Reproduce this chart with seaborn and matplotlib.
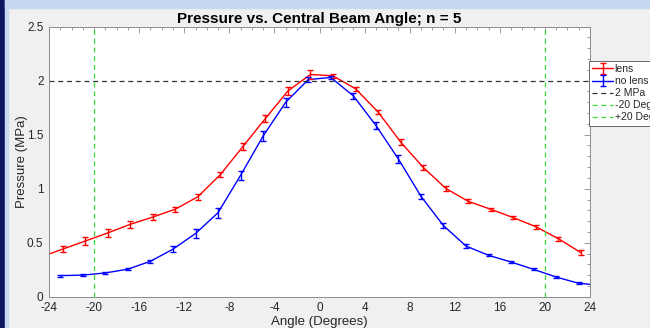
import numpy as np
import pandas as pd
import seaborn as sns
import matplotlib.pyplot as plt
from matplotlib.patches import Rectangle

OUT_FILE = "out.png"

# lens series (slightly offset in angle so error bars do not overlap)
angle_lens = [-24.8, -22.8, -20.8, -18.8, -16.8, -14.8, -12.8, -10.8, -8.8, -6.8, -4.8, -2.8, -0.8,
              1.2, 3.2, 5.2, 7.2, 9.2, 11.2, 13.2, 15.2, 17.2, 19.2, 21.2, 23.2]
p_lens = [0.365, 0.44, 0.515, 0.59, 0.67, 0.737, 0.81, 0.925, 1.13, 1.39, 1.65, 1.905, 2.058,
          2.045, 1.925, 1.71, 1.432, 1.198, 1.003, 0.883, 0.809, 0.732, 0.648, 0.537, 0.407]
err_lens = [0.03, 0.03, 0.035, 0.035, 0.03, 0.03, 0.025, 0.025, 0.025, 0.035, 0.035, 0.04, 0.04,
            0.02, 0.02, 0.02, 0.025, 0.025, 0.025, 0.02, 0.015, 0.015, 0.02, 0.02, 0.025]

# no lens series
angle_nolens = [-23, -21, -19, -17, -15, -13, -11, -9, -7, -5, -3, -1,
                1, 3, 5, 7, 9, 11, 13, 15, 17, 19, 21, 23, 25]
p_nolens = [0.195, 0.20, 0.22, 0.255, 0.328, 0.44, 0.585, 0.778, 1.124, 1.488, 1.80, 2.01,
            2.03, 1.86, 1.587, 1.275, 0.93, 0.658, 0.469, 0.383, 0.321, 0.253, 0.182, 0.124, 0.105]
err_nolens = [0.01, 0.01, 0.01, 0.01, 0.015, 0.025, 0.04, 0.045, 0.04, 0.045, 0.04, 0.02,
              0.015, 0.025, 0.035, 0.04, 0.025, 0.025, 0.015, 0.01, 0.01, 0.01, 0.01, 0.01, 0.01]

ref_pressure = 2.0
ref_angles = [-20, 20]

x_ticks = list(range(-24, 25, 4))
y_ticks = [0, 0.5, 1, 1.5, 2, 2.5]
y_tick_labels = ["0", "0.5", "1", "1.5", "2", "2.5"]

RED = "#ff0000"
BLUE = "#0000ff"
GREEN = "#33e033"
GREY = "#8c8c8c"
TEXT = "#262626"

sns.set_theme(style="white")
plt.rcParams["font.family"] = ["Liberation Sans", "DejaVu Sans"]
plt.rcParams["axes.unicode_minus"] = False

df = pd.concat([
    pd.DataFrame({"angle": angle_lens, "pressure": p_lens, "err": err_lens, "series": "lens"}),
    pd.DataFrame({"angle": angle_nolens, "pressure": p_nolens, "err": err_nolens, "series": "no lens"}),
])

fig = plt.figure(figsize=(6.5, 3.28), dpi=100, facecolor="#f0f0f0")
# window chrome around the figure
fig.patches.append(Rectangle((0, 0), 5 / 650, 1, transform=fig.transFigure, color="#0b1660", zorder=-5))
fig.patches.append(Rectangle((5 / 650, 0), 2.5 / 650, 1, transform=fig.transFigure, color="#c6d9f3", zorder=-5))
fig.patches.append(Rectangle((5 / 650, 1 - 8 / 328), 1, 8 / 328, transform=fig.transFigure, color="#c6d9f3", zorder=-5))

ax = fig.add_axes([49 / 650, 1 - 296.7 / 328, 541 / 650, 270 / 328])
ax.set_facecolor("white")

sns.lineplot(data=df, x="angle", y="pressure", hue="series", palette={"lens": RED, "no lens": BLUE},
             sort=False, estimator=None, linewidth=1.0, legend=False, ax=ax)
lines = ax.get_lines()

handles = []
for i, (name, color) in enumerate([("lens", RED), ("no lens", BLUE)]):
    sub = df[df["series"] == name]
    eb = ax.errorbar(sub["angle"], sub["pressure"], yerr=sub["err"], fmt="none",
                     ecolor=color, elinewidth=1.0, capsize=2.2, capthick=1.0)
    handles.append((lines[i], eb))

h2 = ax.axhline(ref_pressure, color="#333333", lw=0.9, ls=(0, (4, 3)))
hv = []
for a in ref_angles:
    hv.append(ax.axvline(a, color=GREEN, lw=0.9, ls=(0, (4, 3))))

ax.set_xlim(-24, 24)
ax.set_ylim(0, 2.5)
ax.set_xticks(x_ticks)
ax.set_yticks(y_ticks)
ax.set_yticklabels(y_tick_labels)
ax.set_xticks(np.arange(-24, 25, 1), minor=True)
ax.set_yticks(np.arange(0, 2.51, 0.1), minor=True)
ax.tick_params(which="both", direction="in", top=True, right=True, colors=GREY,
               labelcolor=TEXT, labelsize=8.5, width=0.6)
ax.tick_params(which="major", length=4)
ax.tick_params(axis="x", which="major", pad=4)
ax.tick_params(axis="y", which="major", pad=4)
ax.tick_params(which="minor", length=2)
for s in ax.spines.values():
    s.set_color(GREY)
    s.set_linewidth(0.7)

ax.set_xlabel("Angle (Degrees)", fontsize=9.5, color=TEXT, labelpad=1)
ax.set_ylabel("Pressure (MPa)", fontsize=9.5, color=TEXT, labelpad=-1)
ax.set_title("Pressure vs. Central Beam Angle; n = 5", fontsize=11, fontweight="bold",
             color="black", pad=3)

leg = ax.legend(handles + [h2] + hv, ["lens", "no lens", "2 MPa", "-20 Deg", "+20 Deg"],
                loc="upper left", bbox_to_anchor=(589 / 650, 1 - 61 / 328),
                bbox_transform=fig.transFigure, fontsize=7.5, frameon=True, fancybox=False,
                framealpha=1, edgecolor="#555555", borderpad=0.3, labelspacing=0.2,
                handlelength=2.0, handletextpad=0.15, borderaxespad=0)
leg.get_frame().set_linewidth(0.6)

fig.savefig(OUT_FILE, dpi=100, facecolor=fig.get_facecolor())
